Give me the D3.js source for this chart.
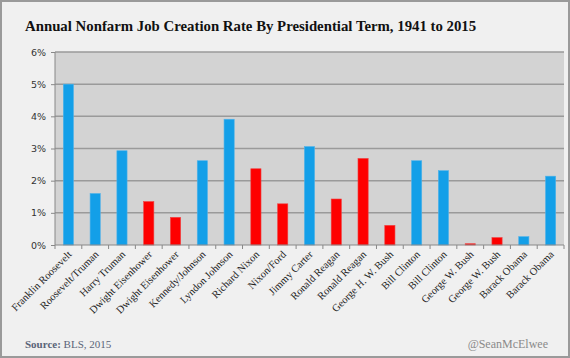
<!DOCTYPE html>
<html>
<head>
<meta charset="utf-8">
<script src="https://cdn.jsdelivr.net/npm/d3@7"></script>
<style>
  body { margin: 0; background: #f0f0f0; }
  svg { display: block; }
</style>
</head>
<body>
<div id="chart"></div>
<script>
var presidents = ["Franklin Roosevelt", "Roosevelt/Truman", "Harry Truman", "Dwight Eisenhower",
    "Dwight Eisenhower", "Kennedy/Johnson", "Lyndon Johnson", "Richard Nixon", "Nixon/Ford",
    "Jimmy Carter", "Ronald Reagan", "Ronald Reagan", "George H. W. Bush", "Bill Clinton",
    "Bill Clinton", "George W. Bush", "George W. Bush", "Barack Obama", "Barack Obama"];
var rates = [5.0, 1.6, 2.93, 1.35, 0.86, 2.62, 3.91, 2.37, 1.28, 3.06, 1.43, 2.69, 0.61,
    2.62, 2.31, 0.04, 0.23, 0.26, 2.14];
var parties = ["D", "D", "D", "R", "R", "D", "D", "R", "R", "D", "R", "R", "R",
    "D", "D", "R", "R", "D", "D"];
var yTicks = [0, 1, 2, 3, 4, 5, 6];

var width = 570, height = 358;
var margin = {top: 52, right: 6, bottom: 113, left: 55};
var w = width - margin.left - margin.right;
var h = height - margin.top - margin.bottom;

var data = presidents.map(function(p, i) {
    return {idx: i, name: p, rate: rates[i], party: parties[i]};
});

var svg = d3.select("#chart").append("svg")
    .attr("width", width)
    .attr("height", height);

svg.append("rect")
    .attr("x", 1).attr("y", 1)
    .attr("width", width - 2).attr("height", height - 2)
    .attr("fill", "#f0f0f0")
    .attr("stroke", "#9a9a9a")
    .attr("stroke-width", 2);

svg.append("text")
    .attr("x", 25).attr("y", 31)
    .attr("font-family", "Liberation Serif, serif")
    .attr("font-weight", "bold")
    .attr("font-size", "14.8px")
    .attr("fill", "#111")
    .text("Annual Nonfarm Job Creation Rate By Presidential Term, 1941 to 2015");

var g = svg.append("g")
    .attr("transform", "translate(" + margin.left + "," + margin.top + ")");

var x = d3.scaleBand().domain(d3.range(presidents.length)).range([0, w]).paddingInner(0.62).paddingOuter(0.31);
var y = d3.scaleLinear().domain([0, 6]).range([h, 0]);

g.append("rect")
    .attr("width", w).attr("height", h)
    .attr("fill", "#d3d3d3");

g.selectAll(".grid")
    .data(yTicks.slice(1))
    .enter()
    .append("line")
    .attr("x1", 0).attr("x2", w)
    .attr("y1", function(d) { return y(d); })
    .attr("y2", function(d) { return y(d); })
    .attr("stroke", "#9a9a9a")
    .attr("stroke-width", 1.5);

g.selectAll(".bar")
    .data(data)
    .enter()
    .append("rect")
    .attr("x", function(d) { return x(d.idx); })
    .attr("y", function(d) { return y(d.rate); })
    .attr("width", x.bandwidth())
    .attr("height", function(d) { return h - y(d.rate); })
    .attr("fill", function(d) { return d.party == "D" ? "#139fe8" : "#fe0000"; })
    .attr("stroke", function(d) { return d.party == "D" ? "#4fb2ea" : "#f04040"; })
    .attr("stroke-width", 0.6);

// y axis
var yAxis = g.append("g")
    .call(d3.axisLeft(y).tickValues(yTicks).tickFormat(function(d) { return d + "%"; }).tickSize(4).tickPadding(5));
yAxis.select(".domain").attr("stroke", "#888").attr("d", "M0,0V" + h);
yAxis.selectAll(".tick line").attr("stroke", "#888");
yAxis.selectAll("text")
    .attr("font-family", "DejaVu Sans, sans-serif")
    .attr("font-size", "9.5px")
    .attr("fill", "#333");

// x axis
var xAxis = g.append("g")
    .attr("transform", "translate(0," + h + ")");
xAxis.append("line")
    .attr("x1", 0).attr("x2", w)
    .attr("stroke", "#888");
xAxis.selectAll(".xt")
    .data(d3.range(presidents.length + 1))
    .enter()
    .append("line")
    .attr("x1", function(d) { return d * w / presidents.length; })
    .attr("x2", function(d) { return d * w / presidents.length; })
    .attr("y1", 0).attr("y2", 4)
    .attr("stroke", "#888");

xAxis.selectAll(".lbl")
    .data(data)
    .enter()
    .append("text")
    .attr("transform", function(d) {
        var cx = x(d.idx) + x.bandwidth() / 2 + 4;
        return "translate(" + cx + ",10) rotate(-45)";
    })
    .attr("text-anchor", "end")
    .attr("font-family", "Liberation Serif, serif")
    .attr("font-size", "10.5px")
    .attr("fill", "#222")
    .text(function(d) { return d.name; });

var src = svg.append("text")
    .attr("x", 25).attr("y", 348)
    .attr("font-family", "Liberation Serif, serif")
    .attr("font-size", "11px")
    .attr("fill", "#5a6478");
src.append("tspan").attr("font-weight", "bold").text("Source:");
src.append("tspan").text(" BLS, 2015");

svg.append("text")
    .attr("x", 548).attr("y", 348)
    .attr("text-anchor", "end")
    .attr("font-family", "Liberation Serif, serif")
    .attr("font-size", "12px")
    .attr("fill", "#8a8a8a")
    .text("@SeanMcElwee");
</script>
</body>
</html>
